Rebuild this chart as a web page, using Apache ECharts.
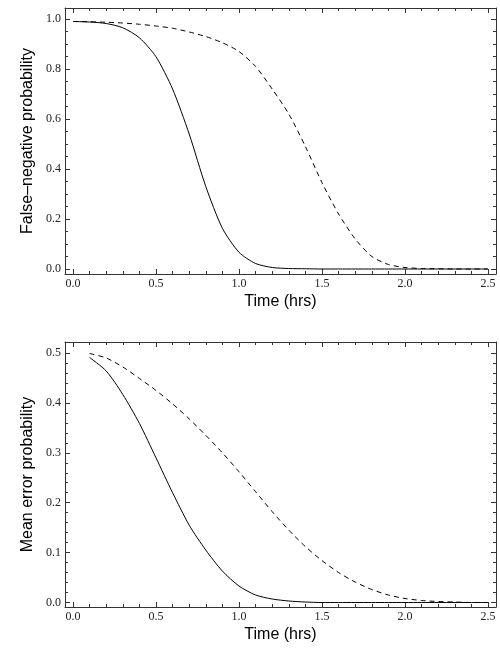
<!DOCTYPE html>
<html>
<head>
<meta charset="utf-8">
<script src="https://cdn.jsdelivr.net/npm/echarts@6/dist/echarts.min.js"></script>
<style>html,body{margin:0;padding:0;background:#fff}#c{width:500px;height:660px}</style>
</head>
<body>
<div id="c"></div>
<script>
// time samples (hrs)
var timeTop = [0,0.1,0.2,0.3,0.4,0.5,0.6,0.7,0.8,0.9,1.0,1.1,1.2,1.3,1.4,1.5,1.6,1.7,1.8,1.9,2.0,2.1,2.2,2.3,2.4,2.5];
var fnSolid = [0.99,0.988,0.982,0.965,0.925,0.849,0.72,0.54,0.33,0.163,0.067,0.022,0.006,0.002,0.001,0,0,0,0,0,0,0,0,0,0,0];
var fnDashed = [0.99,0.989,0.987,0.984,0.979,0.972,0.963,0.948,0.93,0.905,0.87,0.81,0.72,0.62,0.49,0.345,0.22,0.12,0.05,0.018,0.006,0.002,0.001,0,0,0];

var timeBot = [0.1,0.2,0.3,0.4,0.5,0.6,0.7,0.8,0.9,1.0,1.1,1.2,1.3,1.4,1.5,1.6,1.7,1.8,1.9,2.0,2.1,2.2,2.3,2.4,2.5];
var meSolid = [0.491,0.464,0.417,0.359,0.29,0.22,0.155,0.105,0.063,0.033,0.015,0.007,0.003,0.001,0,0,0,0,0,0,0,0,0,0,0];
var meDashed = [0.499,0.49,0.472,0.449,0.425,0.398,0.368,0.335,0.30,0.262,0.222,0.182,0.145,0.112,0.084,0.06,0.041,0.026,0.015,0.008,0.004,0.002,0.001,0,0];

var xMajor = [0,0.5,1.0,1.5,2.0,2.5];
var xMinor = [0.1,0.2,0.3,0.4,0.6,0.7,0.8,0.9,1.1,1.2,1.3,1.4,1.6,1.7,1.8,1.9,2.1,2.2,2.3,2.4];
var yTopMajor = [0,0.2,0.4,0.6,0.8,1.0];
var yTopMinor = [0.05,0.1,0.15,0.25,0.3,0.35,0.45,0.5,0.55,0.65,0.7,0.75,0.85,0.9,0.95];
var yBotMajor = [0,0.1,0.2,0.3,0.4,0.5];
var yBotMinor = [0.02,0.04,0.06,0.08,0.12,0.14,0.16,0.18,0.22,0.24,0.26,0.28,0.32,0.34,0.36,0.38,0.42,0.44,0.46,0.48];

function pairs(xs, ys) { return xs.map(function (x, i) { return [x, ys[i]]; }); }

var serif = 'Liberation Serif';
var sans = 'Liberation Sans';
var lineCol = '#333';

// one side of a frame: major-tick axis (with line, maybe labels) + minor-tick axis
function side(grid, min, max, major, minor, pos, labels, name, nameGap) {
  var out = [];
  [[major, 5, true], [minor, 3, false]].forEach(function (t) {
    var ax = {
      type: 'value', gridIndex: grid, min: min, max: max, position: pos,
      splitLine: { show: false },
      axisLine: { show: t[2], onZero: false, lineStyle: { color: lineCol, width: 1 } },
      axisTick: { show: true, inside: true, length: t[1], customValues: t[0], lineStyle: { color: lineCol } },
      axisLabel: { show: labels && t[2], customValues: major, fontFamily: serif, fontSize: 12, color: '#222',
        formatter: function (v) { return v.toFixed(1); }, margin: 4 }
    };
    if (labels && t[2]) {
      ax.name = name; ax.nameLocation = 'middle'; ax.nameGap = nameGap;
      ax.nameTextStyle = { fontFamily: sans, fontSize: 16, color: '#000' };
    }
    out.push(ax);
  });
  return out;
}

var xAxes = [], yAxes = [];
[0, 1].forEach(function (g) {
  xAxes = xAxes.concat(side(g, -0.048, 2.548, xMajor, xMinor, 'bottom', true, 'Time (hrs)', 20));
  xAxes = xAxes.concat(side(g, -0.048, 2.548, xMajor, xMinor, 'top', false));
});
yAxes = yAxes.concat(side(0, -0.02, 1.044, yTopMajor, yTopMinor, 'left', true, 'False–negative probability', 29));
yAxes = yAxes.concat(side(0, -0.02, 1.044, yTopMajor, yTopMinor, 'right', false));
yAxes = yAxes.concat(side(1, -0.009, 0.522, yBotMajor, yBotMinor, 'left', true, 'Mean error probability', 29));
yAxes = yAxes.concat(side(1, -0.009, 0.522, yBotMajor, yBotMinor, 'right', false));

function line(data, xi, yi, dashed) {
  return { type: 'line', xAxisIndex: xi, yAxisIndex: yi, data: data, showSymbol: false, silent: true,
    smooth: 0.25,
    lineStyle: { color: '#000', width: 1, type: dashed ? [5, 4] : 'solid' } };
}

var chart = echarts.init(document.getElementById('c'));
chart.setOption({
  animation: false,
  grid: [
    { left: 65, right: 4, top: 8, height: 266 },
    { left: 65, right: 4, top: 342, height: 265 }
  ],
  xAxis: xAxes,
  yAxis: yAxes,
  series: [
    line(pairs(timeTop, fnSolid), 0, 0, false),
    line(pairs(timeTop, fnDashed), 0, 0, true),
    line(pairs(timeBot, meSolid), 4, 4, false),
    line(pairs(timeBot, meDashed), 4, 4, true)
  ]
});
</script>
</body>
</html>
